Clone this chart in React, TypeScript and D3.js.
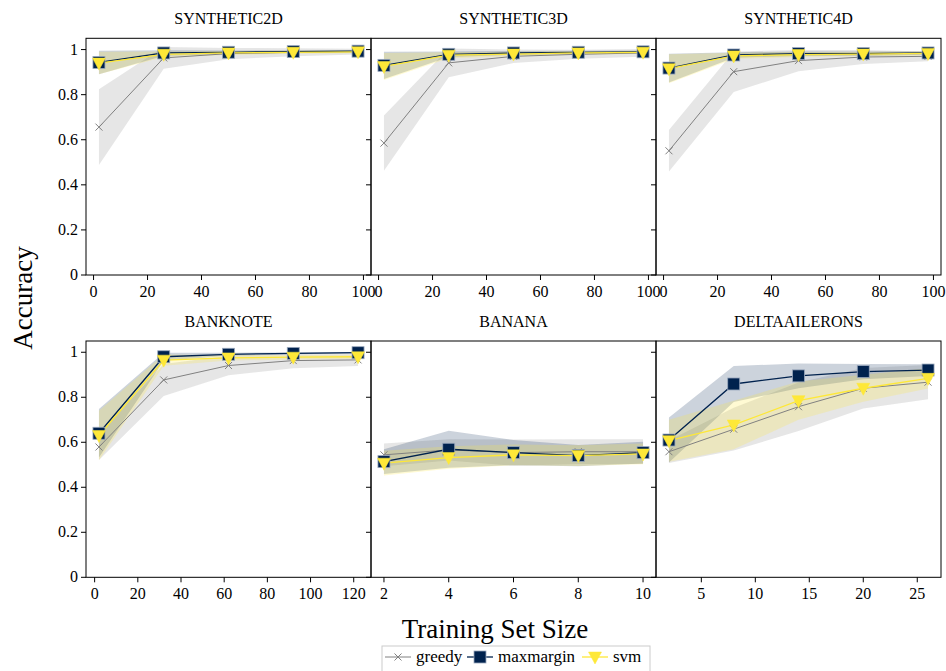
import * as d3 from 'd3';

// ---- data ----
const methods = ['greedy', 'maxmargin', 'svm'];
const titles = ['SYNTHETIC2D', 'SYNTHETIC3D', 'SYNTHETIC4D', 'BANKNOTE', 'BANANA', 'DELTAAILERONS'];

const xSynthetic = [2, 26, 50, 74, 98];
const xBanknote = [2, 32, 62, 92, 122];
const xBanana = [2, 4, 6, 8, 10];
const xDelta = [2, 8, 14, 20, 26];

const ticksSynthetic = [0, 20, 40, 60, 80, 100];
const ticksBanknote = [0, 20, 40, 60, 80, 100, 120];
const ticksBanana = [2, 4, 6, 8, 10];
const ticksDelta = [5, 10, 15, 20, 25];
const yTicks = [0, 0.2, 0.4, 0.6, 0.8, 1];
const yTickLabels = ['0', '0.2', '0.4', '0.6', '0.8', '1'];

const syn2dGreedy = [0.656, 0.963, 0.982, 0.988, 0.991];
const syn2dGreedyStd = [0.168, 0.048, 0.025, 0.018, 0.013];
const syn2dMax = [0.943, 0.985, 0.988, 0.991, 0.993];
const syn2dMaxStd = [0.052, 0.012, 0.008, 0.006, 0.005];
const syn2dSvm = [0.94, 0.979, 0.985, 0.988, 0.99];
const syn2dSvmStd = [0.05, 0.012, 0.009, 0.007, 0.006];

const syn3dGreedy = [0.585, 0.941, 0.97, 0.979, 0.985];
const syn3dGreedyStd = [0.122, 0.064, 0.03, 0.02, 0.017];
const syn3dMax = [0.93, 0.979, 0.985, 0.988, 0.99];
const syn3dMaxStd = [0.06, 0.012, 0.009, 0.007, 0.006];
const syn3dSvm = [0.925, 0.975, 0.98, 0.985, 0.988];
const syn3dSvmStd = [0.06, 0.013, 0.01, 0.008, 0.007];

const syn4dGreedy = [0.551, 0.902, 0.951, 0.967, 0.97];
const syn4dGreedyStd = [0.092, 0.09, 0.047, 0.031, 0.022];
const syn4dMax = [0.918, 0.976, 0.982, 0.982, 0.985];
const syn4dMaxStd = [0.064, 0.012, 0.01, 0.009, 0.008];
const syn4dSvm = [0.915, 0.972, 0.978, 0.98, 0.983];
const syn4dSvmStd = [0.064, 0.014, 0.011, 0.01, 0.009];

const banknoteGreedy = [0.579, 0.877, 0.941, 0.963, 0.966];
const banknoteGreedyStd = [0.058, 0.071, 0.043, 0.034, 0.027];
const banknoteMax = [0.64, 0.98, 0.991, 0.995, 0.998];
const banknoteMaxStd = [0.108, 0.018, 0.007, 0.004, 0.003];
const banknoteSvm = [0.63, 0.965, 0.975, 0.978, 0.98];
const banknoteSvmStd = [0.11, 0.025, 0.012, 0.01, 0.009];

const bananaGreedy = [0.544, 0.566, 0.554, 0.558, 0.558];
const bananaGreedyStd = [0.05, 0.047, 0.058, 0.055, 0.055];
const bananaMax = [0.514, 0.569, 0.554, 0.541, 0.554];
const bananaMaxStd = [0.055, 0.082, 0.056, 0.047, 0.048];
const bananaSvm = [0.507, 0.532, 0.544, 0.541, 0.548];
const bananaSvmStd = [0.055, 0.05, 0.046, 0.046, 0.046];

const deltaGreedy = [0.558, 0.658, 0.758, 0.84, 0.867];
const deltaGreedyStd = [0.05, 0.095, 0.108, 0.09, 0.076];
const deltaMax = [0.61, 0.859, 0.895, 0.914, 0.921];
const deltaMaxStd = [0.1, 0.08, 0.055, 0.034, 0.026];
const deltaSvm = [0.607, 0.677, 0.785, 0.84, 0.884];
const deltaSvmStd = [0.093, 0.108, 0.085, 0.06, 0.045];

// ---- styling ----
const W = 946;
const H = 671;
const font = '"Liberation Serif", "DejaVu Serif", serif';
const colors: Record<string, string> = { greedy: '#808080', maxmargin: '#00224e', svm: '#fee838' };
const bandOpacity: Record<string, number> = { greedy: 0.2, maxmargin: 0.2, svm: 0.22 };

const colLeft = [86, 371, 656];
const panelW = 285;
const rowTop = [38.3, 341];
const rowBottom = [275, 577.3];

const panels = [
  { xs: xSynthetic, ticks: ticksSynthetic, series: [[syn2dGreedy, syn2dGreedyStd], [syn2dMax, syn2dMaxStd], [syn2dSvm, syn2dSvmStd]] },
  { xs: xSynthetic, ticks: ticksSynthetic, series: [[syn3dGreedy, syn3dGreedyStd], [syn3dMax, syn3dMaxStd], [syn3dSvm, syn3dSvmStd]] },
  { xs: xSynthetic, ticks: ticksSynthetic, series: [[syn4dGreedy, syn4dGreedyStd], [syn4dMax, syn4dMaxStd], [syn4dSvm, syn4dSvmStd]] },
  { xs: xBanknote, ticks: ticksBanknote, series: [[banknoteGreedy, banknoteGreedyStd], [banknoteMax, banknoteMaxStd], [banknoteSvm, banknoteSvmStd]] },
  { xs: xBanana, ticks: ticksBanana, series: [[bananaGreedy, bananaGreedyStd], [bananaMax, bananaMaxStd], [bananaSvm, bananaSvmStd]] },
  { xs: xDelta, ticks: ticksDelta, series: [[deltaGreedy, deltaGreedyStd], [deltaMax, deltaMaxStd], [deltaSvm, deltaSvmStd]] },
];

function Marker({ method, x, y }: { method: string; x: number; y: number }) {
  if (method === 'greedy') {
    const s = 3.5;
    return (
      <g stroke={colors.greedy} strokeWidth={1}>
        <line x1={x - s} y1={y - s} x2={x + s} y2={y + s} />
        <line x1={x - s} y1={y + s} x2={x + s} y2={y - s} />
      </g>
    );
  }
  if (method === 'maxmargin') {
    const s = 6;
    return <rect x={x - s} y={y - s} width={2 * s} height={2 * s} fill={colors.maxmargin} stroke="#9aa8bd" strokeWidth={0.8} />;
  }
  const w = 6.5;
  return <path d={`M${x - w},${y - 5} L${x + w},${y - 5} L${x},${y + 7} Z`} fill={colors.svm} stroke={colors.svm} strokeWidth={0.5} />;
}

function Panel({ idx }: { idx: number }) {
  const p = panels[idx];
  const row = Math.floor(idx / 3);
  const col = idx % 3;
  const left = colLeft[col];
  const top = rowTop[row];
  const bottom = rowBottom[row];
  const [lo, hi] = d3.extent(p.xs) as [number, number];
  const pad = (hi - lo) * 0.05;
  const x = d3.scaleLinear().domain([lo - pad, hi + pad]).range([left, left + panelW]);
  const y = d3.scaleLinear().domain([0, 1.05]).range([bottom, top]);

  // mean +/- std band and mean line for each method
  const areaFor = (k: number) =>
    d3.area<number>()
      .x((_, i) => x(p.xs[i]))
      .y0((m, i) => y(m - p.series[k][1][i]))
      .y1((m, i) => y(m + p.series[k][1][i]))(p.series[k][0]) || '';
  const lineFor = (k: number) =>
    d3.line<number>().x((_, i) => x(p.xs[i])).y((m) => y(m))(p.series[k][0]) || '';

  return (
    <g>
      <defs>
        <clipPath id={`clip${idx}`}>
          <rect x={left} y={top} width={panelW} height={bottom - top} />
        </clipPath>
      </defs>
      <text x={left + panelW / 2} y={row === 0 ? 24 : 327} textAnchor="middle" fontSize={16} fontFamily={font}>
        {titles[idx]}
      </text>
      <g clipPath={`url(#clip${idx})`}>
        {methods.map((m, k) => (
          <path key={m} d={areaFor(k)} fill={colors[m]} fillOpacity={bandOpacity[m]} stroke="none" />
        ))}
        {methods.map((m, k) => (
          <path key={m} d={lineFor(k)} fill="none" stroke={colors[m]} strokeWidth={m === 'greedy' ? 1 : 1.3} />
        ))}
      </g>
      {methods.map((m, k) => (
        <g key={m}>
          {p.series[k][0].map((v, i) => (
            <Marker key={i} method={m} x={x(p.xs[i])} y={y(v)} />
          ))}
        </g>
      ))}
      <rect x={left} y={top} width={panelW} height={bottom - top} fill="none" stroke="#000" strokeWidth={1} />
      {p.ticks.map((t) => (
        <g key={t}>
          <line x1={x(t)} x2={x(t)} y1={bottom} y2={bottom + 5} stroke="#000" strokeWidth={1} />
          <text x={x(t)} y={bottom + 22} textAnchor="middle" fontSize={16} fontFamily={font}>
            {t}
          </text>
        </g>
      ))}
      {yTicks.map((t, i) => (
        <g key={t}>
          <line x1={left - 5} x2={left} y1={y(t)} y2={y(t)} stroke="#000" strokeWidth={1} />
          {col === 0 && (
            <text x={left - 8} y={y(t) + 5} textAnchor="end" fontSize={16} fontFamily={font}>
              {yTickLabels[i]}
            </text>
          )}
        </g>
      ))}
    </g>
  );
}

function Legend() {
  const items = [
    { m: 'greedy', x0: 385 },
    { m: 'maxmargin', x0: 467 },
    { m: 'svm', x0: 582 },
  ];
  const yy = 657;
  return (
    <g>
      <rect x={382} y={646} width={268} height={40} fill="#fff" stroke="#cccccc" strokeWidth={1} />
      {items.map(({ m, x0 }) => (
        <g key={m}>
          <line x1={x0} x2={x0 + 26} y1={yy} y2={yy} stroke={colors[m]} strokeWidth={m === 'greedy' ? 1 : 1.3} />
          <Marker method={m} x={x0 + 13} y={yy} />
          <text x={x0 + 31} y={yy + 5} fontSize={17} fontFamily={font}>
            {m}
          </text>
        </g>
      ))}
    </g>
  );
}

export default function App() {
  return (
    <svg width={W} height={H} style={{ position: 'absolute', left: 0, top: 0, background: '#fff' }}>
      <rect width={W} height={H} fill="#fff" />
      {panels.map((_, i) => (
        <Panel key={i} idx={i} />
      ))}
      <text transform="translate(32,298) rotate(-90)" textAnchor="middle" fontSize={27} fontFamily={font}>
        Accuracy
      </text>
      <text x={495} y={638} textAnchor="middle" fontSize={27} fontFamily={font}>
        Training Set Size
      </text>
      <Legend />
    </svg>
  );
}
